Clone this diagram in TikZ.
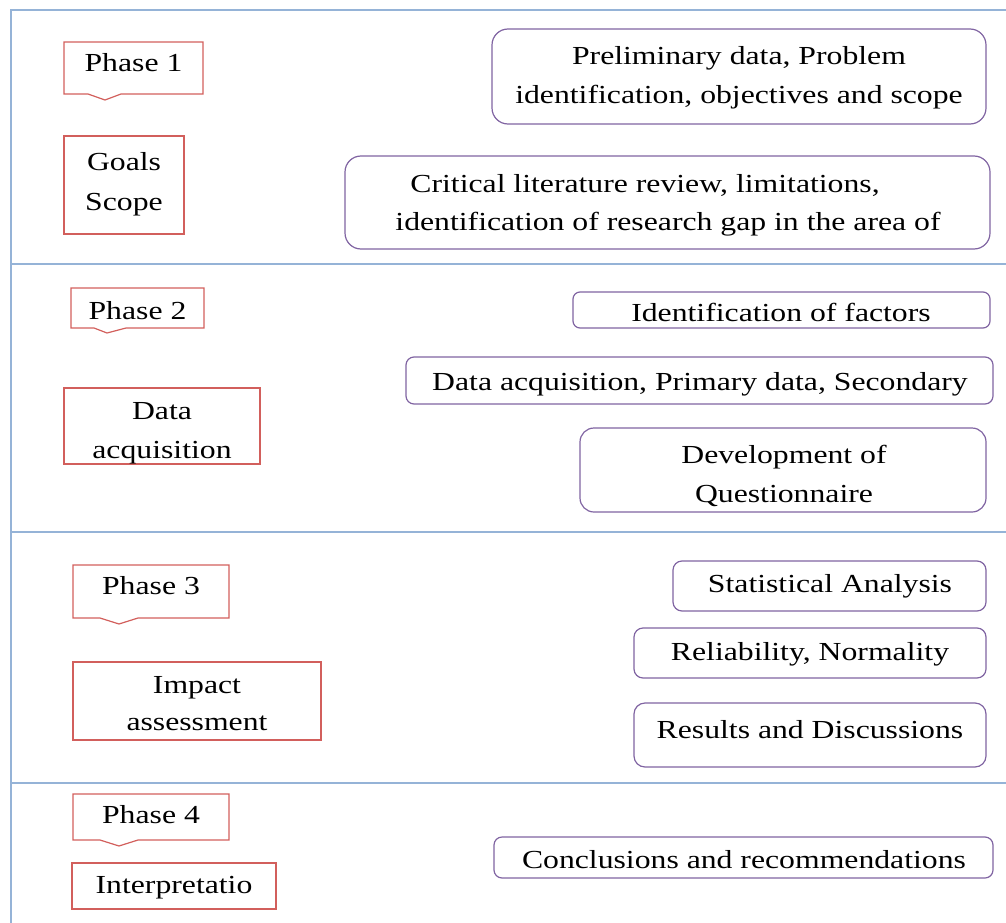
\documentclass[tikz,border=0pt]{standalone}
\usepackage{fontspec}
\setmainfont{Liberation Serif}[FakeStretch=1.22]
\definecolor{frameblue}{HTML}{95B3D7}
\definecolor{phasered}{HTML}{D25F5C}
\definecolor{boxpurple}{HTML}{8064A2}
\begin{document}
\begin{tikzpicture}[x=1pt,y=-1pt,
  txt/.style={font=\fontsize{26}{30}\selectfont, inner sep=0pt, anchor=base, text=black},
  frameline/.style={draw=frameblue, line width=2pt},
  redbox/.style={draw=phasered, line width=1.2pt, inner sep=0pt},
  rbox/.style={draw=boxpurple, line width=1.2pt, inner sep=0pt, rounded corners=#1},
  rbox/.default=8pt]
\useasboundingbox (0,0) rectangle (1006,923);
% frame
\coordinate (tl) at (11,10);
\coordinate (tr) at (1006,10);
\coordinate (bl) at (11,923);
\draw[frameline] (tr) -- (tl) -- (bl);
\coordinate (s1l) at (11,264); \coordinate (s1r) at (1006,264);
\coordinate (s2l) at (11,532); \coordinate (s2r) at (1006,532);
\coordinate (s3l) at (11,783); \coordinate (s3r) at (1006,783);
\draw[frameline] (s1l) -- (s1r);
\draw[frameline] (s2l) -- (s2r);
\draw[frameline] (s3l) -- (s3r);

% phase callouts
\draw[redbox] (64,42) -- (203,42) -- (203,94) -- (121,94) -- (105,100) -- (88,94) -- (64,94) -- cycle;
\draw[redbox] (71,288) -- (204,288) -- (204,328) -- (126,328) -- (107,333) -- (94,328) -- (71,328) -- cycle;
\draw[redbox] (73,565) -- (229,565) -- (229,618) -- (138,618) -- (119,624) -- (100,618) -- (73,618) -- cycle;
\draw[redbox] (73,794) -- (229,794) -- (229,840) -- (138,840) -- (119,846) -- (100,840) -- (73,840) -- cycle;
\node[txt] (p1) at (133.5,72) {Phase 1};
\node[txt] (p2) at (137.5,319) {Phase 2};
\node[txt] (p3) at (151,594) {Phase 3};
\node[txt] (p4) at (151,823) {Phase 4};

% red boxes
\node[redbox, minimum width=120pt, minimum height=98pt] (goals) at (124,185) {};
\node[txt] (goalsA) at (124,170) {Goals};
\node[txt] (goalsB) at (124,210) {Scope};

\node[redbox, minimum width=196pt, minimum height=76pt] (data) at (162,426) {};
\begin{scope}
\clip (64,388) rectangle (260,463);
\node[txt] (dataA) at (162,419) {Data};
\node[txt] (dataB) at (162,458) {acquisition};
\end{scope}

\node[redbox, minimum width=248pt, minimum height=78pt] (impact) at (197,701) {};
\node[txt] (impactA) at (197,693) {Impact};
\node[txt] (impactB) at (197,730) {assessment};

\node[redbox, minimum width=204pt, minimum height=46pt] (interp) at (174,886) {};
\node[txt] (interpA) at (174,893) {Interpretatio};

% purple rounded boxes
\node[rbox=16pt, minimum width=494pt, minimum height=95pt] (b1) at (739,76.5) {};
\node[txt] (b1a) at (739,65) {Preliminary data, Problem};
\node[txt] (b1b) at (739,104) {identification, objectives and scope};

\node[rbox=16pt, minimum width=645pt, minimum height=93pt] (b2) at (667.5,202.5) {};
\node[txt] (b2a) at (645,192) {Critical literature review, limitations,};
\node[txt] (b2b) at (668,230) {identification of research gap in the area of};

\node[rbox=7pt, minimum width=417pt, minimum height=36pt] (b3) at (781.5,310) {};
\node[txt] (b3a) at (781,321) {Identification of factors};

\node[rbox=8pt, minimum width=587pt, minimum height=47pt] (b4) at (699.5,380.5) {};
\node[txt] (b4a) at (700,390) {Data acquisition, Primary data, Secondary};

\node[rbox=14pt, minimum width=406pt, minimum height=84pt] (b5) at (783,470) {};
\node[txt] (b5a) at (784,463) {Development of};
\node[txt] (b5b) at (784,502) {Questionnaire};

\node[rbox=9pt, minimum width=313pt, minimum height=50pt] (b6) at (829.5,586) {};
\node[txt] (b6a) at (830,592) {Statistical Analysis};

\node[rbox=9pt, minimum width=352pt, minimum height=50pt] (b7) at (810,653) {};
\node[txt] (b7a) at (810,660) {Reliability, Normality};

\node[rbox=11pt, minimum width=352pt, minimum height=64pt] (b8) at (810,735) {};
\node[txt] (b8a) at (810,738) {Results and Discussions};

\node[rbox=8pt, minimum width=499pt, minimum height=41pt] (b9) at (743.5,857.5) {};
\node[txt] (b9a) at (744,868) {Conclusions and recommendations};
\end{tikzpicture}
\end{document}
